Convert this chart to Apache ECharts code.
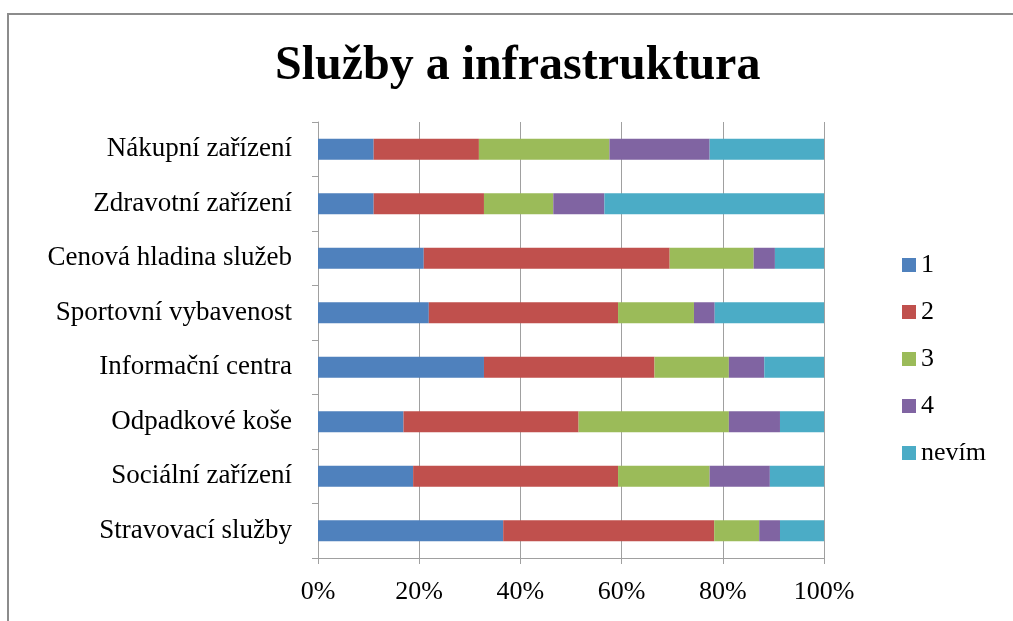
<!DOCTYPE html>
<html>
<head>
<meta charset="utf-8">
<style>
  html, body { margin: 0; padding: 0; background: #fff; }
  #main { width: 1013px; height: 621px; }
</style>
<script src="https://cdn.jsdelivr.net/npm/echarts@6/dist/echarts.min.js"></script>
</head>
<body>
<div id="main"></div>
<script>
// kategorie (shora dolů)
const categories = [
  "Nákupní zařízení",
  "Zdravotní zařízení",
  "Cenová hladina služeb",
  "Sportovní vybavenost",
  "Informační centra",
  "Odpadkové koše",
  "Sociální zařízení",
  "Stravovací služby"
];

// podíly odpovědí v %
const val1 = [11.0, 11.0, 20.9, 21.9, 32.8, 16.9, 18.8, 36.6];
const val2 = [20.8, 21.8, 48.6, 37.4, 33.7, 34.6, 40.5, 41.7];
const val3 = [25.8, 13.7, 16.6, 15.0, 14.7, 29.7, 18.1, 8.9];
const val4 = [19.8, 10.1, 4.2, 4.1, 7.0, 10.1, 11.9, 4.1];
const valNevim = [22.6, 43.4, 9.7, 21.6, 11.8, 8.7, 10.7, 8.7];

const seriesNames = ["1", "2", "3", "4", "nevím"];
const seriesColors = ["#4F81BD", "#C0504D", "#9BBB59", "#8064A2", "#4BACC6"];
const seriesValues = [val1, val2, val3, val4, valNevim];

const font = "'Liberation Serif', 'Times New Roman', serif";

const series = seriesNames.map(function (name, i) {
  return {
    name: name,
    type: "bar",
    stack: "total",
    barWidth: 21,
    data: seriesValues[i],
    itemStyle: { color: seriesColors[i] },
    emphasis: { disabled: true }
  };
});

const option = {
  animation: false,
  textStyle: { fontFamily: font },
  title: {
    text: "Služby a infrastruktura",
    left: 275,
    top: 43,
    padding: 0,
    textStyle: {
      fontFamily: font,
      fontSize: 48,
      fontWeight: "bold",
      color: "#000"
    }
  },
  legend: {
    orient: "vertical",
    left: 902,
    top: 252,
    padding: 0,
    itemWidth: 14,
    itemHeight: 14,
    itemGap: 21,
    icon: "rect",
    textStyle: {
      fontFamily: font,
      fontSize: 26,
      lineHeight: 26,
      color: "#000",
      padding: [0, 0, 0, 0]
    },
    data: seriesNames
  },
  grid: {
    left: 318,
    right: 189,
    top: 122,
    bottom: 63,
    containLabel: false
  },
  xAxis: {
    type: "value",
    min: 0,
    max: 100,
    interval: 20,
    axisLabel: {
      formatter: "{value}%",
      fontFamily: font,
      fontSize: 26,
      color: "#000",
      margin: 21
    },
    axisLine: { show: true, lineStyle: { color: "#A0A0A0", width: 1 } },
    axisTick: { show: true, length: 6, lineStyle: { color: "#A0A0A0" } },
    splitLine: { show: true, lineStyle: { color: "#A0A0A0", width: 1 } }
  },
  yAxis: {
    type: "category",
    inverse: true,
    data: categories,
    axisLabel: {
      fontFamily: font,
      fontSize: 27,
      color: "#000",
      margin: 26
    },
    axisLine: { show: true, lineStyle: { color: "#A0A0A0", width: 1 } },
    axisTick: { show: true, length: 6, lineStyle: { color: "#A0A0A0" } }
  },
  graphic: [
    {
      type: "rect",
      silent: true,
      shape: { x: 8, y: 14, width: 1100, height: 700 },
      style: { fill: "none", stroke: "#8C8C8C", lineWidth: 2 }
    }
  ],
  series: series
};

const myChart = echarts.init(document.getElementById("main"));
myChart.setOption(option);
</script>
</body>
</html>
